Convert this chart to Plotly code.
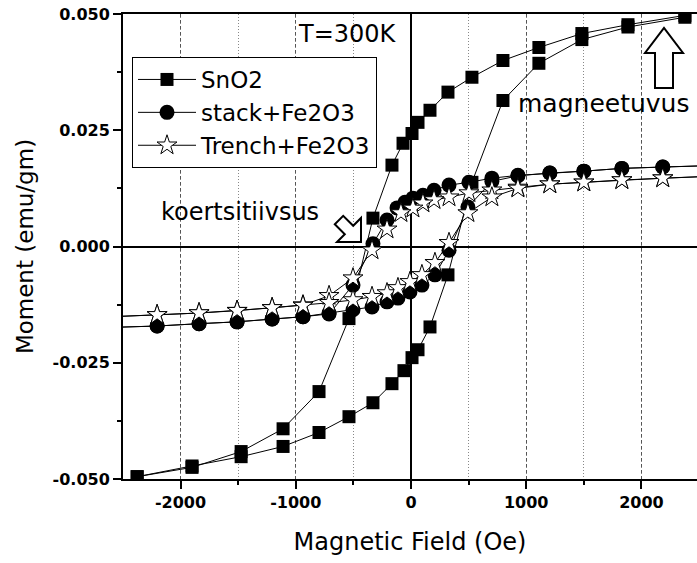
import plotly.graph_objects as go

# ---------------- data ----------------
series_names = ["SnO2", "stack+Fe2O3", "Trench+Fe2O3"]

# SnO2: descending-field branch, then ascending-field branch
sno2_h_down = [2377, 1883, 1483, 1110, 798, 529, 321, 165, 61, 9, -69, -165, -330, -538, -798, -1110, -1474, -1900, -2376]
sno2_m_down = [0.0497, 0.0477, 0.0458, 0.0428, 0.0400, 0.0364, 0.0332, 0.0293, 0.0267, 0.0243, 0.0222, 0.0175, 0.0061, -0.0155, -0.0312, -0.0392, -0.0441, -0.0475, -0.0495]
sno2_h_up = [-2376, -1900, -1474, -1110, -798, -538, -330, -165, -61, 9, 61, 165, 321, 529, 798, 1110, 1483, 1883, 2377]
sno2_m_up = [-0.0495, -0.0472, -0.0452, -0.0430, -0.0400, -0.0366, -0.0336, -0.0295, -0.0267, -0.0239, -0.0222, -0.0173, -0.0061, 0.0138, 0.0314, 0.0394, 0.0445, 0.0472, 0.0493]

# stack+Fe2O3
stack_h_down = [2600, 2185, 1830, 1500, 1205, 928, 702, 503, 330, 200, 104, 17, -52, -121, -208, -330, -503, -711, -937, -1205, -1509, -1839, -2203, -2600]
stack_m_down = [0.0174, 0.0171, 0.0168, 0.0162, 0.0158, 0.0153, 0.0147, 0.0138, 0.0132, 0.0121, 0.0110, 0.0104, 0.0095, 0.0083, 0.0057, 0.0006, -0.0083, -0.0145, -0.0151, -0.0156, -0.0162, -0.0166, -0.0171, -0.0174]
stack_h_up = [-2600, -2203, -1839, -1509, -1205, -937, -711, -503, -338, -208, -113, -9, 95, 208, 330, 494, 702, 928, 1205, 1500, 1830, 2185, 2600]
stack_m_up = [-0.0174, -0.0171, -0.0166, -0.0162, -0.0156, -0.0151, -0.0143, -0.0136, -0.0130, -0.0119, -0.0111, -0.0098, -0.0083, -0.0061, -0.0008, 0.0085, 0.0140, 0.0152, 0.0158, 0.0162, 0.0168, 0.0171, 0.0174]

# Trench+Fe2O3
trench_h_down = [2600, 2185, 1830, 1500, 1205, 928, 702, 503, 330, 200, 104, 17, -87, -208, -338, -503, -711, -937, -1205, -1509, -1839, -2203, -2600]
trench_m_down = [0.0151, 0.0147, 0.0143, 0.0138, 0.0134, 0.0127, 0.0121, 0.0115, 0.0106, 0.0100, 0.0093, 0.0082, 0.0072, 0.0037, -0.0008, -0.0068, -0.0106, -0.0126, -0.0132, -0.0138, -0.0143, -0.0147, -0.0151]
trench_h_up = [-2600, -2203, -1839, -1509, -1205, -937, -711, -503, -338, -208, -113, -9, 95, 208, 330, 494, 702, 928, 1205, 1500, 1830, 2185, 2600]
trench_m_up = [-0.0151, -0.0147, -0.0143, -0.0138, -0.0132, -0.0127, -0.0121, -0.0115, -0.0108, -0.0100, -0.0089, -0.0076, -0.0061, -0.0035, 0.0008, 0.0072, 0.0106, 0.0125, 0.0134, 0.0138, 0.0143, 0.0147, 0.0151]

x_ticks = [-2000, -1000, 0, 1000, 2000]
x_tick_labels = ["-2000", "-1000", "0", "1000", "2000"]
y_ticks = [-0.05, -0.025, 0.0, 0.025, 0.05]
y_tick_labels = ["-0.050", "-0.025", "0.000", "0.025", "0.050"]

# ---------------- layout geometry ----------------
W, H = 697, 563
L, R, T, B = 123, 0, 14, 84
PW, PH = W - L - R, H - T - B

def px2paper(px, py):
    return (px - L) / PW, (H - B - py) / PH

def poly_path(points):
    pts = [px2paper(*p) for p in points]
    return "M " + " L ".join(f"{x:.5f},{y:.5f}" for x, y in pts) + " Z"

FONT = "DejaVu Sans"

fig = go.Figure()

fig.add_trace(go.Scatter(
    x=sno2_h_down + sno2_h_up, y=sno2_m_down + sno2_m_up,
    mode="lines+markers", name=series_names[0], legendgroup="a",
    line=dict(color="black", width=1),
    marker=dict(symbol="square", size=13, color="black"),
))
fig.add_trace(go.Scatter(
    x=stack_h_down + stack_h_up, y=stack_m_down + stack_m_up,
    mode="lines+markers", name=series_names[1], legendgroup="b",
    line=dict(color="black", width=1),
    marker=dict(symbol="circle", size=15, color="black"),
))
fig.add_trace(go.Scatter(
    x=trench_h_down + trench_h_up, y=trench_m_down + trench_m_up,
    mode="lines+markers", name=series_names[2], legendgroup="c",
    line=dict(color="black", width=1),
    marker=dict(symbol="star", size=15, color="white", line=dict(color="black", width=1)),
))

# hollow block arrows
up_arrow = [(655, 88), (655, 53), (645, 53), (664, 28), (683, 53), (673, 53), (673, 88)]
diag_arrow = [(334.8, 224.2), (344.8, 234.2), (337, 242), (361, 242), (361, 218), (353.2, 225.8), (343.2, 215.8)]
shapes = []
for pts in (up_arrow, diag_arrow):
    shapes.append(dict(type="path", xref="paper", yref="paper", path=poly_path(pts),
                       line=dict(color="black", width=2), fillcolor="white", layer="above"))

annotations = []
for txt, px, py, sz in (("T=300K", 296, 34, 24), ("magneetuvus", 516, 103, 25), ("koertsitiivsus", 159, 212, 24)):
    xp, yp = px2paper(px, py)
    annotations.append(dict(text=txt, x=xp, y=yp, xref="paper", yref="paper",
                            xanchor="left", yanchor="middle", showarrow=False,
                            font=dict(family=FONT, size=sz, color="black")))

lx, ly = px2paper(132, 57)

fig.update_layout(
    width=W, height=H,
    margin=dict(l=L, r=R, t=T, b=B),
    paper_bgcolor="white", plot_bgcolor="white",
    font=dict(family=FONT, color="black"),
    showlegend=True,
    legend=dict(x=lx, y=ly, xanchor="left", yanchor="top",
                bgcolor="white", bordercolor="black", borderwidth=1,
                font=dict(family=FONT, size=23), tracegroupgap=0,
                itemwidth=58),
    shapes=shapes,
    annotations=annotations,
    xaxis=dict(
        range=[-2499, 2482], tickvals=x_ticks, ticktext=x_tick_labels,
        tickfont=dict(family=FONT, size=16, weight="bold"),
        ticks="outside", ticklen=8, tickwidth=2, tickcolor="black",
        showline=True, linecolor="black", linewidth=2, mirror=True,
        showgrid=True, gridcolor="#555555", gridwidth=1, griddash="3px,3px",
        zeroline=True, zerolinecolor="black", zerolinewidth=1.5,
        minor=dict(dtick=500, tick0=0, ticks="outside", ticklen=4, tickwidth=1.5, tickcolor="black",
                   showgrid=True, gridcolor="#888888", gridwidth=1, griddash="1px,2px"),
        title=dict(text="Magnetic Field (Oe)", font=dict(family=FONT, size=24), standoff=22),
        fixedrange=True,
    ),
    yaxis=dict(
        range=[-0.05, 0.05], tickvals=y_ticks, ticktext=y_tick_labels,
        tickfont=dict(family=FONT, size=16, weight="bold"),
        ticks="outside", ticklen=8, tickwidth=2, tickcolor="black",
        showline=True, linecolor="black", linewidth=2, mirror=False,
        showgrid=False,
        zeroline=True, zerolinecolor="black", zerolinewidth=1.5,
        minor=dict(dtick=0.0125, tick0=0, ticks="outside", ticklen=4, tickwidth=1.5, tickcolor="black",
                   showgrid=False),
        title=dict(text="Moment (emu/gm)", font=dict(family=FONT, size=23), standoff=12),
        fixedrange=True,
    ),
)

fig.write_html("out.html", config={"displayModeBar": False})
